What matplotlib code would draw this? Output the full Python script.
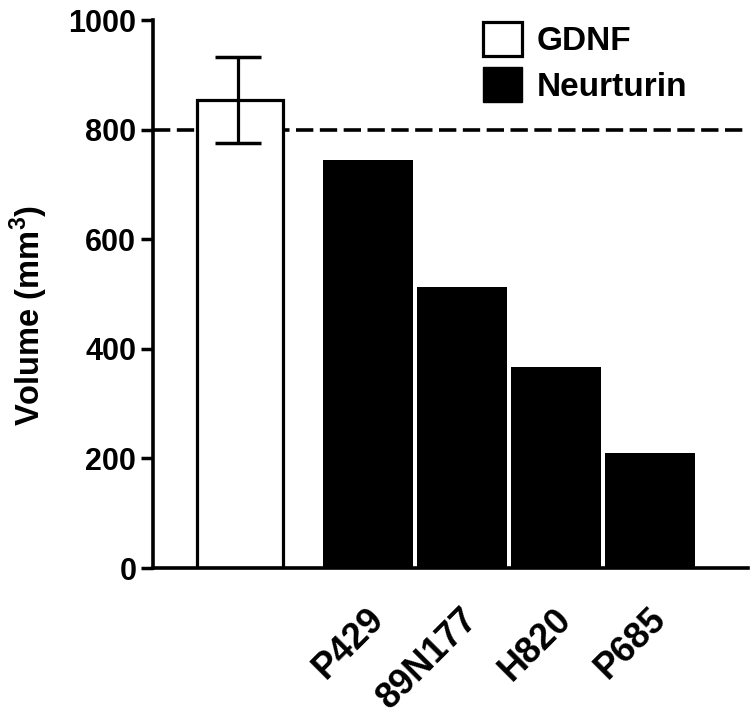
import matplotlib
matplotlib.use("Agg")
import matplotlib.pyplot as plt
import matplotlib.transforms as mtransforms
from matplotlib.patches import Patch
import numpy as np

# data
gdnf_mean = 854
gdnf_err = 79
nrtn_labels = ["P429", "89N177", "H820", "P685"]
nrtn_values = [745, 513, 367, 210]
reference_line = 800

plt.rcParams['font.family'] = ['Liberation Sans', 'DejaVu Sans']
plt.rcParams['font.weight'] = 'bold'
plt.rcParams['mathtext.fontset'] = 'custom'
plt.rcParams['mathtext.bf'] = 'Liberation Sans:bold'
plt.rcParams['mathtext.rm'] = 'Liberation Sans'

fig = plt.figure(figsize=(7.5, 7.25), dpi=100)
ax = fig.add_axes([153 / 750, 1 - 568 / 725, (748 - 153) / 750, (568 - 20) / 725])

# positions: GDNF at 0, neurturin bars with pitch 1
gdnf_x = 0
nrtn_x = 1.36 + np.arange(len(nrtn_values))

ax.bar(gdnf_x, gdnf_mean, width=0.915, color="white", edgecolor="black", linewidth=2.3, zorder=2)
ax.errorbar(gdnf_x - 0.02, gdnf_mean, yerr=gdnf_err, color="black", elinewidth=2.3,
            capsize=16.5, capthick=2.5, zorder=3)
ax.bar(nrtn_x, nrtn_values, width=0.96, color="black", edgecolor="black", linewidth=0, zorder=2)

ax.axhline(reference_line, color="black", linewidth=2.6, linestyle=(0, (4.8, 1.8)), zorder=1)

ax.set_xlim(-0.926, 5.404)
ax.set_ylim(0, 1000)
ax.set_yticks(np.arange(0, 1001, 200))
ax.tick_params(axis="y", length=9, width=2.5, pad=3, labelsize=22)
ax.tick_params(axis="x", length=0, pad=24, labelsize=26)

ax.set_xticks(nrtn_x)
ax.set_xticklabels(nrtn_labels, rotation=45, ha="right", rotation_mode="anchor")
offset = mtransforms.ScaledTranslation(-2 / 100, 0, fig.dpi_scale_trans)
for lab in ax.get_xticklabels():
    lab.set_transform(lab.get_transform() + offset)

for side in ["top", "right"]:
    ax.spines[side].set_visible(False)
for side in ["left", "bottom"]:
    ax.spines[side].set_linewidth(2.6)

ax.set_ylabel("Volume (mm$^\\mathbf{3}$)", fontsize=23.5, fontweight="bold")
ax.yaxis.set_label_coords((50 - 153) / 595, 0.46)

handles = [Patch(facecolor="white", edgecolor="black", linewidth=2.3, label="GDNF"),
           Patch(facecolor="black", edgecolor="black", label="Neurturin")]
ax.legend(handles=handles, loc="upper left", bbox_to_anchor=(483 / 750, 1 - 22 / 725),
          bbox_transform=fig.transFigure, frameon=False, borderpad=0,
          borderaxespad=0, handlelength=1.17, handleheight=1.2, handletextpad=0.45,
          labelspacing=0.3, prop={"weight": "bold", "size": 24})

fig.savefig("out.png", dpi=100)
